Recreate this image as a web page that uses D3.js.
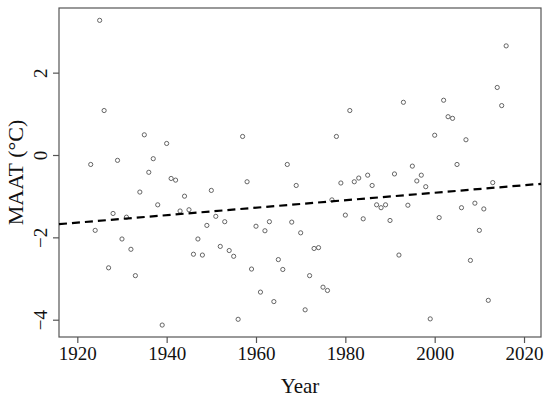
<!DOCTYPE html>
<html>
<head>
<meta charset="utf-8">
<script src="https://cdn.jsdelivr.net/npm/d3@7"></script>
<style>
  html, body { margin: 0; padding: 0; background: #fff; }
  svg { display: block; }
  text { font-family: "Liberation Serif", "DejaVu Serif", serif; fill: #111; }
</style>
</head>
<body>
<svg id="chart" width="550" height="399"></svg>
<script>
const years = d3.range(1923, 2017);
const maat = [
  -0.23, -1.83, 3.27, 1.08, -2.74, -1.42, -0.13, -2.04, -1.51, -2.29,
  -2.93, -0.90, 0.49, -0.42, -0.09, -1.21, -4.13, 0.28, -0.57, -0.61,
  -1.36, -1.00, -1.33, -2.41, -2.04, -2.43, -1.71, -0.86, -1.49, -2.22,
  -1.62, -2.32, -2.46, -3.99, 0.45, -0.65, -2.77, -1.73, -3.33, -1.84,
  -1.62, -3.56, -2.54, -2.78, -0.23, -1.63, -0.74, -1.89, -3.76, -2.93,
  -2.27, -2.25, -3.21, -3.29, -1.09, 0.45, -0.68, -1.46, 1.08, -0.65,
  -0.56, -1.55, -0.49, -0.74, -1.21, -1.28, -1.21, -1.59, -0.46, -2.43,
  1.28, -1.22, -0.27, -0.63, -0.49, -0.77, -3.98, 0.48, -1.52, 1.33,
  0.93, 0.89, -0.23, -1.28, 0.37, -2.56, -1.17, -1.83, -1.31, -3.53,
  -0.67, 1.64, 1.20, 2.65
];
const xTicks = [1920, 1940, 1960, 1980, 2000, 2020];
const yTicks = [-4, -2, 0, 2];
const trendYears = [1915.9, 2023.8];
const trendValues = [-1.68, -0.70];

const svg = d3.select("#chart");
const mLeft = 59, mRight = 541, mTop = 8, mBottom = 337;
const x = d3.scaleLinear().domain([1915.9, 2023.8]).range([mLeft, mRight]);
const y = d3.scaleLinear().domain([-4.42, 3.57]).range([mBottom, mTop]);

const axisColor = "#555";

// frame
svg.append("rect")
  .attr("x", mLeft).attr("y", mTop)
  .attr("width", mRight - mLeft).attr("height", mBottom - mTop)
  .attr("fill", "none").attr("stroke", axisColor).attr("stroke-width", 1.2);

// x axis
const gx = svg.append("g").attr("transform", `translate(0,${mBottom})`)
  .call(d3.axisBottom(x).tickValues(xTicks).tickFormat(d3.format("d")).tickSizeOuter(0).tickSize(6).tickPadding(4));
gx.select(".domain").remove();
gx.selectAll(".tick line").attr("stroke", axisColor).attr("stroke-width", 1.2);
gx.selectAll(".tick text").attr("font-size", 19).attr("fill", "#111");

// y axis
const gy = svg.append("g").attr("transform", `translate(${mLeft},0)`)
  .call(d3.axisLeft(y).tickValues(yTicks).tickFormat(d => d < 0 ? "\u2212" + Math.abs(d) : d).tickSizeOuter(0).tickSize(6));
gy.select(".domain").remove();
gy.selectAll(".tick line").attr("stroke", axisColor).attr("stroke-width", 1.2);
gy.selectAll(".tick text")
  .attr("font-size", 19).attr("fill", "#111")
  .attr("x", null).attr("dy", null)
  .attr("text-anchor", "middle")
  .attr("transform", "translate(-12,0) rotate(-90)");

// points
svg.append("g").selectAll("circle")
  .data(years.map((yr, i) => ({ yr, v: maat[i] })))
  .join("circle")
  .attr("cx", d => x(d.yr)).attr("cy", d => y(d.v))
  .attr("r", 2.1)
  .attr("fill", "none").attr("stroke", "#555").attr("stroke-width", 0.9);

// trend line
svg.append("line")
  .attr("x1", x(trendYears[0])).attr("y1", y(trendValues[0]))
  .attr("x2", x(trendYears[1])).attr("y2", y(trendValues[1]))
  .attr("stroke", "#000").attr("stroke-width", 2.2)
  .attr("stroke-dasharray", "8,5");

// labels
svg.append("text")
  .attr("x", (mLeft + mRight) / 2).attr("y", 393)
  .attr("text-anchor", "middle").attr("font-size", 21)
  .text("Year");

svg.append("text")
  .attr("transform", `translate(23,${(mTop + mBottom) / 2}) rotate(-90)`)
  .attr("text-anchor", "middle").attr("font-size", 22)
  .text("MAAT (°C)");
</script>
</body>
</html>
